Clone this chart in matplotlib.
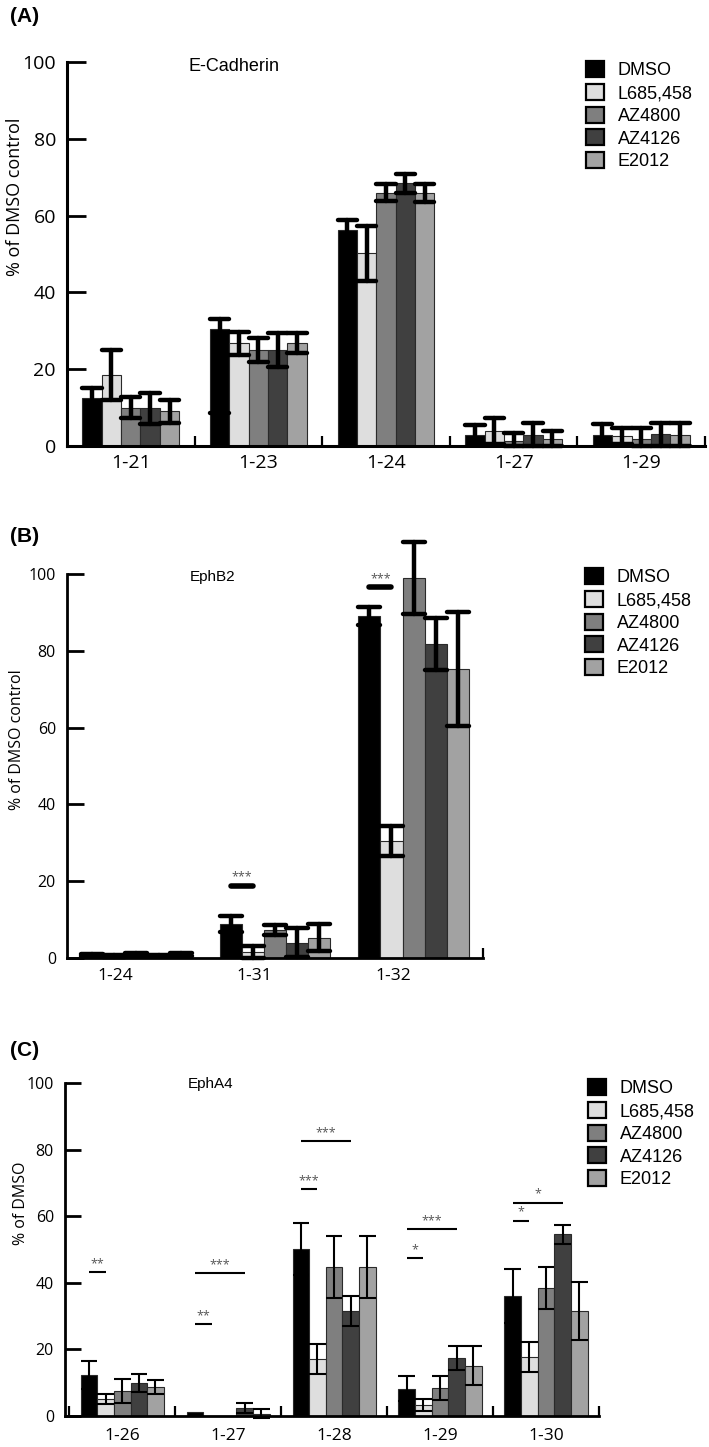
import numpy as np
import matplotlib
matplotlib.use("Agg")
import matplotlib.pyplot as plt
from matplotlib.patches import Patch

# %% data
treatments = ["DMSO", "L685,458", "AZ4800", "AZ4126", "E2012"]
colors = ["#000000", "#dedede", "#7f7f7f", "#404040", "#a2a2a2"]

# (A) E-Cadherin
groups_a = ["1-21", "1-23", "1-24", "1-27", "1-29"]
mean_a = [
    [12.5, 30.4, 56.2, 2.9, 2.9],   # DMSO
    [18.5, 26.8, 50.2, 3.9, 2.5],   # L685,458
    [10.0, 25.0, 66.0, 1.3, 1.7],   # AZ4800
    [9.8, 25.0, 68.4, 2.9, 3.0],    # AZ4126
    [9.0, 26.8, 65.8, 1.7, 2.9],    # E2012
]
err_hi_a = [
    [2.5, 2.6, 2.7, 2.6, 2.9],
    [6.5, 3.0, 7.2, 3.3, 2.1],
    [2.8, 3.0, 2.1, 2.0, 2.9],
    [4.0, 4.5, 2.4, 3.0, 2.9],
    [3.0, 2.7, 2.3, 2.2, 3.0],
]
err_lo_a = [
    [0.0, 21.9, 0.0, 0.0, 0.0],
    [6.5, 3.0, 7.2, 3.3, 2.1],
    [2.8, 3.0, 2.1, 1.3, 1.7],
    [4.0, 4.5, 2.4, 2.9, 2.9],
    [3.0, 2.7, 2.3, 1.7, 2.9],
]

# (B) EphB2
groups_b = ["1-24", "1-31", "1-32"]
mean_b = [
    [0.8, 8.9, 89.0],
    [0.5, 1.6, 30.5],
    [0.9, 7.3, 99.0],
    [0.6, 4.0, 81.8],
    [0.9, 5.3, 75.3],
]
err_b = [
    [0.3, 2.1, 2.4],
    [0.2, 1.5, 4.0],
    [0.3, 1.3, 9.3],
    [0.2, 3.8, 6.8],
    [0.3, 3.5, 14.8],
]
# (group, bar from, bar to, y, label)
sig_b = [(1, 0, 1, 18.8, "***"), (2, 0, 1, 96.6, "***")]

# (C) EphA4
groups_c = ["1-26", "1-27", "1-28", "1-29", "1-30"]
mean_c = [
    [12.3, 1.1, 50.1, 8.2, 36.0],
    [5.1, 0.0, 17.1, 3.3, 17.7],
    [7.5, 0.0, 44.7, 8.5, 38.4],
    [9.9, 2.4, 31.5, 17.4, 54.6],
    [8.7, 0.7, 44.7, 15.1, 31.5],
]
err_c = [
    [4.2, 0.0, 7.8, 3.7, 8.1],
    [1.5, 0.0, 4.6, 1.8, 4.5],
    [3.6, 0.0, 9.3, 3.6, 6.3],
    [2.6, 1.4, 4.5, 3.7, 2.9],
    [2.2, 1.3, 9.3, 5.8, 8.7],
]
sig_c = [
    (0, 0, 1, 43.2, "**"),
    (1, 0, 1, 27.6, "**"),
    (1, 0, 3, 42.9, "***"),
    (2, 0, 1, 68.1, "***"),
    (2, 0, 3, 82.6, "***"),
    (3, 0, 1, 47.4, "*"),
    (3, 0, 3, 56.1, "***"),
    (4, 0, 1, 58.6, "*"),
    (4, 0, 3, 64.0, "*"),
]

# %% plotting
W, H = 709, 1447
fig = plt.figure(figsize=(W / 100, H / 100), dpi=100)
tick_font = "Open Sans"
arial = "Liberation Sans"


def px_axes(left, right, top, bottom):
    return fig.add_axes([left / W, 1 - bottom / H, (right - left) / W, (bottom - top) / H])


def draw_bars(ax, groups, means, lo, hi, w, elw, round_caps):
    xg = np.arange(len(groups))
    for i in range(len(treatments)):
        x = xg + (i - 2) * w
        ax.bar(x, means[i], w, color=colors[i], edgecolor="#2a2a2a", linewidth=0.8, zorder=2)
    style = "round" if round_caps else "butt"
    for i in range(len(treatments)):
        x = xg + (i - 2) * w
        m = np.array(means[i])
        l = np.array(lo[i])
        h = np.array(hi[i])
        ok = (l + h) > 0
        has_lo = l > 0
        lines = [
            ax.vlines(x[ok], (m - l)[ok], (m + h)[ok], color="k", lw=elw, zorder=3),
            ax.hlines((m + h)[ok], x[ok] - w / 2, x[ok] + w / 2, color="k", lw=elw, zorder=3),
            ax.hlines((m - l)[has_lo], x[has_lo] - w / 2, x[has_lo] + w / 2,
                      color="k", lw=elw, zorder=3),
        ]
        for lc in lines:
            lc.set_capstyle(style)
            lc.set_clip_on(False)


def style_axes(ax, groups, nb, xlim, tick_size, cat_size, ytick_len, cat_pad,
               label_shift=0.0, spine_w=2.0):
    ax.set_xlim(*xlim)
    ax.set_ylim(0, 100)
    for s in ["top", "right"]:
        ax.spines[s].set_visible(False)
    for s in ["left", "bottom"]:
        ax.spines[s].set_linewidth(spine_w)
    ax.set_yticks(range(0, 101, 20))
    ax.tick_params(axis="y", direction="in", length=ytick_len, width=2,
                   labelsize=tick_size, pad=8)
    ax.set_xticks(nb)
    ax.set_xticklabels([""] * len(nb))
    ax.set_xticks(np.arange(len(groups)) + label_shift, minor=True)
    ax.set_xticklabels(groups, minor=True)
    ax.tick_params(axis="x", which="major", direction="in", length=7, width=1.6)
    ax.tick_params(axis="x", which="minor", length=0, labelsize=cat_size, pad=cat_pad)
    for t in ax.get_yticklabels() + ax.get_xticklabels(minor=True):
        t.set_fontfamily(tick_font)


def draw_sig(ax, sigs, w, lw, round_caps, size):
    for g, b0, b1, y, lab in sigs:
        x0 = g + (b0 - 2) * w
        x1 = g + (b1 - 2) * w
        ln, = ax.plot([x0, x1], [y, y], color="k", lw=lw, zorder=4)
        ln.set_solid_capstyle("round" if round_caps else "butt")
        ax.annotate(lab, ((x0 + x1) / 2, y), xytext=(0, 1.5), textcoords="offset points",
                    ha="center", va="bottom", fontsize=size, color="#555555", family=tick_font)


def add_legend(x, y):
    handles = [Patch(facecolor=c, edgecolor="black", linewidth=1.6) for c in colors]
    fig.legend(handles, treatments, loc="upper left", bbox_to_anchor=(x / W, 1 - y / H),
               frameon=False, handlelength=1.0, handleheight=1.0, labelspacing=0.25,
               handletextpad=0.75, borderpad=0, borderaxespad=0,
               prop={"family": arial, "size": 13})


# (A)
w_a = 0.152
ax_a = px_axes(67, 705, 62, 446)
draw_bars(ax_a, groups_a, mean_a, err_lo_a, err_hi_a, w_a, 3.2, True)
style_axes(ax_a, groups_a, np.arange(len(groups_a)) + 0.5, (-0.5, 4.5), 14, 14,
           13.5, 6, spine_w=2.2)
ax_a.set_ylabel("% of DMSO control", fontsize=13, family=tick_font)
ax_a.yaxis.set_label_coords(-0.068, 0.65)
ax_a.text(0.262, 0.987, "E-Cadherin", transform=ax_a.transAxes, ha="center", va="center",
          fontsize=13, family=arial)
add_legend(586, 61)
fig.text(10 / W, 1 - 17 / H, "(A)", fontsize=15, weight="bold", family=arial, va="center")

# (B)
w_b = 0.16
ax_b = px_axes(67, 483, 574, 958)
draw_bars(ax_b, groups_b, mean_b, err_b, err_b, w_b, 3.2, True)
style_axes(ax_b, groups_b, [2.5], (-0.5, 2.5), 11.5, 12.5, 12, 7, label_shift=-0.15)
draw_sig(ax_b, sig_b, w_b, 4.0, True, 9)
ax_b.set_ylabel("% of DMSO control", fontsize=11.5, family=tick_font)
ax_b.yaxis.set_label_coords(-0.101, 0.568)
ax_b.text(0.351, 0.992, "EphB2", transform=ax_b.transAxes, ha="center", va="center",
          fontsize=11, family=arial)
add_legend(585, 568)
fig.text(10 / W, 1 - 537 / H, "(B)", fontsize=15, weight="bold", family=arial, va="center")

# (C)
w_c = 0.157
ax_c = px_axes(65, 599, 1083, 1416)
draw_bars(ax_c, groups_c, mean_c, err_c, err_c, w_c, 1.5, False)
style_axes(ax_c, groups_c, np.arange(len(groups_c) + 1) - 0.5, (-0.54, 4.5), 11.5, 12.5,
           11.5, 9)
draw_sig(ax_c, sig_c, w_c, 1.5, False, 9)
ax_c.set_ylabel("% of DMSO", fontsize=11.5, family=tick_font)
ax_c.yaxis.set_label_coords(-0.067, 0.64)
ax_c.text(0.273, 0.997, "EphA4", transform=ax_c.transAxes, ha="center", va="center",
          fontsize=11, family=arial)
add_legend(588, 1079)
fig.text(10 / W, 1 - 1050 / H, "(C)", fontsize=15, weight="bold", family=arial, va="center")

fig.savefig("out.png", dpi=100)
